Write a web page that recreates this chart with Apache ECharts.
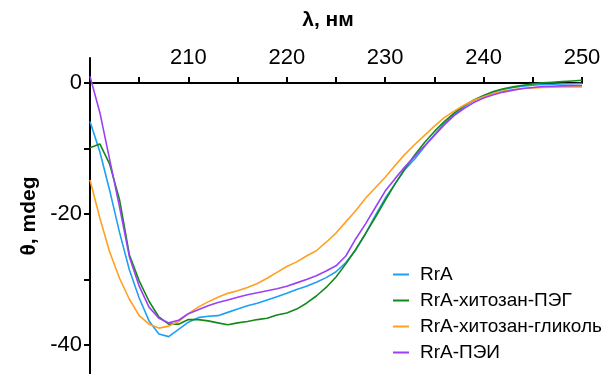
<!DOCTYPE html>
<html>
<head>
<meta charset="utf-8">
<script src="https://cdn.jsdelivr.net/npm/echarts@6/dist/echarts.min.js"></script>
<style>
  html, body { margin: 0; padding: 0; background: #fff; }
  #chart { width: 603px; height: 374px; }
</style>
</head>
<body>
<div id="chart"></div>
<script>
// wavelength, nm
var wavelengths = [200, 201, 202, 203, 204, 205, 206, 207, 208, 209,
    210, 211, 212, 213, 214, 215, 216, 217, 218, 219,
    220, 221, 222, 223, 224, 225, 226, 227, 228, 229,
    230, 231, 232, 233, 234, 235, 236, 237, 238, 239,
    240, 241, 242, 243, 244, 245, 246, 247, 248, 249, 250];

var seriesNames = ["RrA", "RrA-хитозан-ПЭГ", "RrA-хитозан-гликоль", "RrA-ПЭИ"];

var rra = [-5.9, -10.5, -16.4, -22.8, -28.5, -32.8, -36.3, -38.3, -38.7, -37.6,
    -36.5, -35.8, -35.6, -35.5, -35.0, -34.5, -34.0, -33.6, -33.1, -32.6,
    -32.1, -31.5, -31.0, -30.4, -29.7, -28.8, -27.4, -25.5, -23.0, -20.2,
    -17.6, -15.4, -13.2, -11.6, -9.7, -7.9, -6.2, -4.8, -3.6, -2.7,
    -2.0, -1.4, -1.0, -0.7, -0.5, -0.35, -0.25, -0.2, -0.15, -0.12, -0.1];

var rraPeg = [-9.9, -9.3, -12.4, -17.8, -26.2, -30.2, -33.3, -35.7, -36.8, -36.8,
    -36.1, -36.1, -36.3, -36.6, -36.9, -36.6, -36.4, -36.1, -35.9, -35.4,
    -35.1, -34.5, -33.6, -32.5, -31.2, -29.6, -27.6, -25.4, -23.0, -20.5,
    -17.9, -15.4, -13.1, -11.0, -9.1, -7.4, -5.9, -4.6, -3.5, -2.6,
    -1.9, -1.3, -0.9, -0.6, -0.35, -0.15, 0.0, 0.1, 0.2, 0.3, 0.4];

var rraGlycol = [-14.8, -20.6, -25.8, -29.8, -33.0, -35.5, -36.8, -37.4, -37.1, -36.4,
    -35.2, -34.2, -33.4, -32.7, -32.1, -31.7, -31.2, -30.6, -29.8, -28.9,
    -28.0, -27.3, -26.4, -25.6, -24.3, -22.9, -21.2, -19.5, -17.6, -16.0,
    -14.4, -12.6, -10.9, -9.4, -8.0, -6.6, -5.3, -4.3, -3.4, -2.65,
    -2.1, -1.6, -1.25, -1.0, -0.85, -0.75, -0.7, -0.65, -0.62, -0.6, -0.6];

var rraPei = [1.0, -4.5, -11.7, -18.9, -26.5, -31.0, -34.2, -35.9, -36.6, -36.2,
    -35.2, -34.6, -34.0, -33.5, -33.1, -32.7, -32.3, -32.0, -31.7, -31.4,
    -31.0, -30.5, -30.0, -29.4, -28.7, -27.9, -26.4, -23.8, -21.5, -19.0,
    -16.5, -14.6, -12.8, -11.2, -9.6, -8.0, -6.4, -5.0, -3.9, -3.0,
    -2.3, -1.8, -1.4, -1.1, -0.85, -0.7, -0.55, -0.5, -0.45, -0.42, -0.4];

var xTicks = [205, 210, 215, 220, 225, 230, 235, 240, 245, 250];
var xLabels = [210, 220, 230, 240, 250];
var yTicks = [0, -10, -20, -30, -40];
var yLabels = [0, -20, -40];

var colors = ["#1f9ff5", "#14891a", "#ffa020", "#9b40f5"];
var font = "Liberation Sans, Arial, sans-serif";

function pairs(ys) {
    var out = [];
    for (var i = 0; i < wavelengths.length; i++) {
        out.push([wavelengths[i], ys[i]]);
    }
    return out;
}

var values = [rra, rraPeg, rraGlycol, rraPei];
var series = [];
for (var s = 0; s < values.length; s++) {
    series.push({
        name: seriesNames[s],
        type: "line",
        data: pairs(values[s]),
        showSymbol: false,
        symbol: "none",
        color: colors[s],
        lineStyle: { width: 1.6, color: colors[s] },
    });
}

var chart = echarts.init(document.getElementById("chart"));
chart.setOption({
    animation: false,
    // x axis title sits above the tick labels
    title: {
        text: "λ, нм",
        left: 328,
        top: 10,
        textAlign: "center",
        padding: 0,
        textStyle: { fontFamily: font, fontSize: 21, fontWeight: "bold", color: "#000" },
    },
    grid: { left: 90, right: 21, top: 58, bottom: 0, containLabel: false, outerBoundsMode: "none" },
    legend: {
        orient: "vertical",
        left: 388,
        top: 260,
        itemGap: 7,
        itemWidth: 16,
        itemHeight: 2,
        icon: "rect",
        textStyle: { fontFamily: font, fontSize: 19, color: "#000", padding: [0, 0, 0, 6] },
        data: seriesNames,
    },
    xAxis: {
        type: "value",
        position: "top",
        min: 200,
        max: 250,
        axisLine: { onZero: true, lineStyle: { color: "#000", width: 2 } },
        axisTick: { show: true, length: 6, customValues: xTicks, lineStyle: { color: "#000", width: 2 } },
        // labels are measured from the grid top, the axis line sits at y = 0 below it
        axisLabel: { customValues: xLabels, fontFamily: font, fontSize: 22, color: "#000", margin: -11 },
        splitLine: { show: false },
    },
    yAxis: {
        type: "value",
        min: -44.4,
        max: 3.8,
        name: "θ, mdeg",
        nameLocation: "middle",
        nameGap: 48,
        nameRotate: 90,
        nameTextStyle: { fontFamily: font, fontSize: 21, fontWeight: "bold", color: "#000" },
        axisLine: { show: true, onZero: false, lineStyle: { color: "#000", width: 2 } },
        axisTick: { show: true, length: 6, customValues: yTicks, lineStyle: { color: "#000", width: 2 } },
        axisLabel: { customValues: yLabels, fontFamily: font, fontSize: 22, color: "#000", margin: 8 },
        splitLine: { show: false },
    },
    series: series,
});
</script>
</body>
</html>
